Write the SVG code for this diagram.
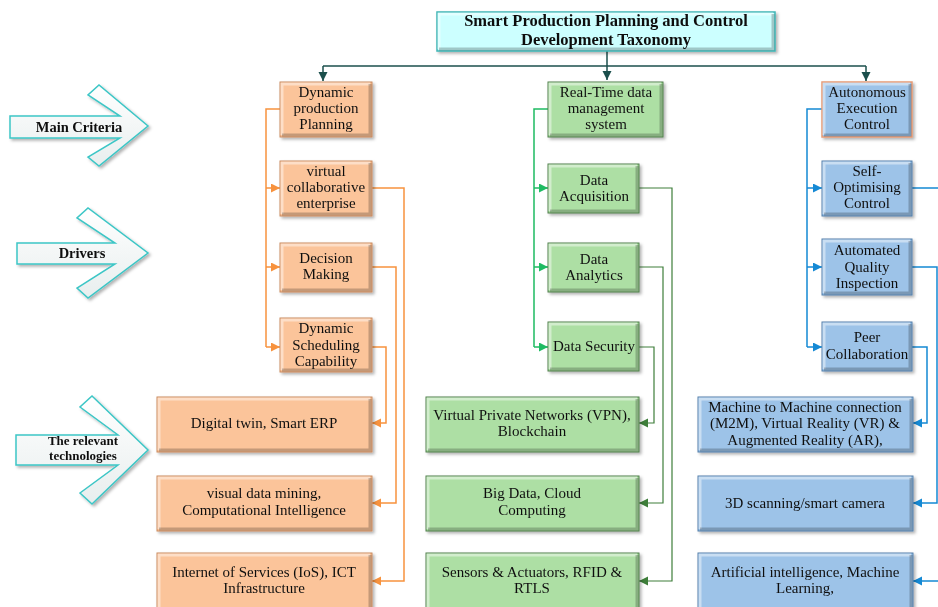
<svg xmlns="http://www.w3.org/2000/svg" width="938" height="607" viewBox="0 0 938 607">
<style>
  text{font-family:"Liberation Serif","Times New Roman",serif;fill:#111;}
  .t{font-size:15px;text-anchor:middle;}
  .tb{font-size:16.5px;font-weight:bold;text-anchor:middle;}
  .lb{font-size:14.5px;font-weight:bold;text-anchor:middle;}
  .lb2{font-size:13px;font-weight:bold;text-anchor:middle;}
  .o{fill:#FBC49A;stroke:#C98A5E;stroke-width:1;}
  .g{fill:#ADDFA4;stroke:#4F7F4A;stroke-width:1;}
  .b{fill:#9DC3E8;stroke:#527FAA;stroke-width:1;}
  .b1{fill:#9DC3E8;stroke:#E79B74;stroke-width:1.5;}
  .ti{fill:#CCFFFF;stroke:#3FB5B5;stroke-width:1.5;}
  .hl{fill:none;stroke:#fff;stroke-opacity:.45;stroke-width:3;}
  .sh{fill:none;stroke:#000;stroke-opacity:.22;stroke-width:3;}
  .la{fill:url(#wg);stroke:#3CC6C6;stroke-width:1.5;}
  .co{fill:none;stroke:#F7923E;stroke-width:1.5;}
  .cgb{fill:none;stroke:#1EBB62;stroke-width:1.5;}
  .cg{fill:none;stroke:#3E7E3A;stroke-width:1.2;}
  .cb{fill:none;stroke:#1589D4;stroke-width:1.5;}
  .ct{fill:none;stroke:#1B4F4C;stroke-width:1.5;}
</style>
<defs>
  <linearGradient id="wg" x1="0" y1="0" x2="0" y2="1">
    <stop offset="0" stop-color="#ffffff"/>
    <stop offset="1" stop-color="#e8eeee"/>
  </linearGradient>
  <filter id="ds" x="-10%" y="-10%" width="130%" height="130%">
    <feDropShadow dx="2" dy="2" stdDeviation="1.5" flood-color="#000" flood-opacity="0.3"/>
  </filter>
  <marker id="mo" markerUnits="userSpaceOnUse" markerWidth="10" markerHeight="10" refX="9" refY="4.5" orient="auto"><path d="M0,0 L9,4.5 L0,9 Z" fill="#F7923E"/></marker>
  <marker id="mgb" markerUnits="userSpaceOnUse" markerWidth="10" markerHeight="10" refX="9" refY="4.5" orient="auto"><path d="M0,0 L9,4.5 L0,9 Z" fill="#1EBB62"/></marker>
  <marker id="mg" markerUnits="userSpaceOnUse" markerWidth="10" markerHeight="10" refX="9" refY="4.5" orient="auto"><path d="M0,0 L9,4.5 L0,9 Z" fill="#3E7E3A"/></marker>
  <marker id="mb" markerUnits="userSpaceOnUse" markerWidth="10" markerHeight="10" refX="9" refY="4.5" orient="auto"><path d="M0,0 L9,4.5 L0,9 Z" fill="#1589D4"/></marker>
  <marker id="mt" markerUnits="userSpaceOnUse" markerWidth="10" markerHeight="10" refX="9" refY="4.5" orient="auto"><path d="M0,0 L9,4.5 L0,9 Z" fill="#1B4F4C"/></marker>
</defs>
<rect width="938" height="607" fill="#fff"/>

<!-- left label arrows -->
<g id="lbl-main" filter="url(#ds)">
  <polygon class="la" points="10,116 120,116 88,95 99,85 148,126 99,166 88,157 120,138 10,138"/>
  <text class="lb" x="79" y="132">Main Criteria</text>
</g>
<g id="lbl-drivers" filter="url(#ds)">
  <polygon class="la" points="17,243 115,243 77,218 88,208 148,253 88,298 77,288 115,264 17,264"/>
  <text class="lb" x="82" y="258">Drivers</text>
</g>
<g id="lbl-tech" filter="url(#ds)">
  <polygon class="la" points="16,435 118,435 80,407 92,396 148,450 92,504 80,493 118,465 16,465"/>
  <text class="lb2" x="83" y="445">The relevant</text>
  <text class="lb2" x="83" y="460">technologies</text>
</g>

<!-- connectors -->
<g id="connectors">
  <path class="ct" d="M607,51 V80" marker-end="url(#mt)"/>
  <path class="ct" d="M323,66 H866"/>
  <path class="ct" d="M323,66 V81" marker-end="url(#mt)"/>
  <path class="ct" d="M866,66 V81" marker-end="url(#mt)"/>

  <path class="co" d="M280,109 H266 V347"/>
  <path class="co" d="M266,188 H280" marker-end="url(#mo)"/>
  <path class="co" d="M266,267 H280" marker-end="url(#mo)"/>
  <path class="co" d="M266,347 H280" marker-end="url(#mo)"/>
  <path class="co" d="M372,188 H404 V581 H372" marker-end="url(#mo)"/>
  <path class="co" d="M372,267 H396 V503 H372" marker-end="url(#mo)"/>
  <path class="co" d="M372,347 H386 V423 H372" marker-end="url(#mo)"/>

  <path class="cgb" d="M548,109 H534 V347"/>
  <path class="cgb" d="M534,188 H548" marker-end="url(#mgb)"/>
  <path class="cgb" d="M534,267 H548" marker-end="url(#mgb)"/>
  <path class="cgb" d="M534,347 H548" marker-end="url(#mgb)"/>
  <path class="cg" d="M639,188 H672 V581 H639" marker-end="url(#mg)"/>
  <path class="cg" d="M639,267 H663 V503 H639" marker-end="url(#mg)"/>
  <path class="cg" d="M639,347 H654 V423 H639" marker-end="url(#mg)"/>

  <path class="cb" d="M822,109 H807 V347"/>
  <path class="cb" d="M807,188 H822" marker-end="url(#mb)"/>
  <path class="cb" d="M807,267 H822" marker-end="url(#mb)"/>
  <path class="cb" d="M807,347 H822" marker-end="url(#mb)"/>
  <path class="cb" d="M912,188 H945 V581 H913" marker-end="url(#mb)"/>
  <path class="cb" d="M912,267 H937 V503 H913" marker-end="url(#mb)"/>
  <path class="cb" d="M912,347 H927 V423 H913" marker-end="url(#mb)"/>
</g>

<!-- title -->
<g id="title" filter="url(#ds)">
  <rect class="ti" x="437" y="12" width="338" height="39"/>
  <path class="hl" d="M439,49 V14 H773"/><path class="sh" d="M439,49 H773 V14"/>
  <text class="tb" x="606" y="26">Smart Production Planning and Control</text>
  <text class="tb" x="606" y="45">Development Taxonomy</text>
</g>

<!-- orange column -->
<g id="o1" filter="url(#ds)">
  <rect class="o" x="280" y="82" width="92" height="55"/>
  <path class="hl" d="M282,135 V84 H370"/><path class="sh" d="M282,135 H370 V84"/>
  <text class="t" x="326" y="97">Dynamic</text><text class="t" x="326" y="113">production</text><text class="t" x="326" y="129">Planning</text>
</g>
<g id="o2" filter="url(#ds)">
  <rect class="o" x="280" y="161" width="92" height="55"/>
  <path class="hl" d="M282,214 V163 H370"/><path class="sh" d="M282,214 H370 V163"/>
  <text class="t" x="326" y="176">virtual</text><text class="t" x="326" y="192">collaborative</text><text class="t" x="326" y="208">enterprise</text>
</g>
<g id="o3" filter="url(#ds)">
  <rect class="o" x="280" y="243" width="92" height="49"/>
  <path class="hl" d="M282,290 V245 H370"/><path class="sh" d="M282,290 H370 V245"/>
  <text class="t" x="326" y="263">Decision</text><text class="t" x="326" y="279">Making</text>
</g>
<g id="o4" filter="url(#ds)">
  <rect class="o" x="280" y="318" width="92" height="54"/>
  <path class="hl" d="M282,370 V320 H370"/><path class="sh" d="M282,370 H370 V320"/>
  <text class="t" x="326" y="333">Dynamic</text><text class="t" x="326" y="350">Scheduling</text><text class="t" x="326" y="366">Capability</text>
</g>
<g id="oA" filter="url(#ds)">
  <rect class="o" x="157" y="397" width="215" height="55"/>
  <path class="hl" d="M159,450 V399 H370"/><path class="sh" d="M159,450 H370 V399"/>
  <text class="t" x="264" y="428">Digital twin, Smart ERP</text>
</g>
<g id="oB" filter="url(#ds)">
  <rect class="o" x="157" y="476" width="215" height="55"/>
  <path class="hl" d="M159,529 V478 H370"/><path class="sh" d="M159,529 H370 V478"/>
  <text class="t" x="264" y="498">visual data mining,</text><text class="t" x="264" y="515">Computational Intelligence</text>
</g>
<g id="oC" filter="url(#ds)">
  <rect class="o" x="157" y="553" width="215" height="58"/>
  <path class="hl" d="M159,611 V555 H370"/><path class="sh" d="M370,611 V555"/>
  <text class="t" x="264" y="577">Internet of Services (IoS), ICT</text><text class="t" x="264" y="593">Infrastructure</text>
</g>

<!-- green column -->
<g id="g1" filter="url(#ds)">
  <rect class="g" x="548" y="82" width="115" height="55"/>
  <path class="hl" d="M550,135 V84 H661"/><path class="sh" d="M550,135 H661 V84"/>
  <text class="t" x="606" y="97">Real-Time data</text><text class="t" x="606" y="113">management</text><text class="t" x="606" y="129">system</text>
</g>
<g id="g2" filter="url(#ds)">
  <rect class="g" x="548" y="164" width="91" height="49"/>
  <path class="hl" d="M550,211 V166 H637"/><path class="sh" d="M550,211 H637 V166"/>
  <text class="t" x="594" y="185">Data</text><text class="t" x="594" y="201">Acquisition</text>
</g>
<g id="g3" filter="url(#ds)">
  <rect class="g" x="548" y="243" width="91" height="49"/>
  <path class="hl" d="M550,290 V245 H637"/><path class="sh" d="M550,290 H637 V245"/>
  <text class="t" x="594" y="264">Data</text><text class="t" x="594" y="280">Analytics</text>
</g>
<g id="g4" filter="url(#ds)">
  <rect class="g" x="548" y="322" width="91" height="49"/>
  <path class="hl" d="M550,369 V324 H637"/><path class="sh" d="M550,369 H637 V324"/>
  <text class="t" x="594" y="351">Data Security</text>
</g>
<g id="gA" filter="url(#ds)">
  <rect class="g" x="426" y="397" width="213" height="55"/>
  <path class="hl" d="M428,450 V399 H637"/><path class="sh" d="M428,450 H637 V399"/>
  <text class="t" x="532" y="420">Virtual Private Networks (VPN),</text><text class="t" x="532" y="436">Blockchain</text>
</g>
<g id="gB" filter="url(#ds)">
  <rect class="g" x="426" y="476" width="213" height="55"/>
  <path class="hl" d="M428,529 V478 H637"/><path class="sh" d="M428,529 H637 V478"/>
  <text class="t" x="532" y="498">Big Data, Cloud</text><text class="t" x="532" y="515">Computing</text>
</g>
<g id="gC" filter="url(#ds)">
  <rect class="g" x="426" y="553" width="213" height="58"/>
  <path class="hl" d="M428,611 V555 H637"/><path class="sh" d="M637,611 V555"/>
  <text class="t" x="532" y="577">Sensors &amp; Actuators, RFID &amp;</text><text class="t" x="532" y="593">RTLS</text>
</g>

<!-- blue column -->
<g id="b1" filter="url(#ds)">
  <rect class="b1" x="822" y="82" width="90" height="55"/>
  <path class="hl" d="M824,135 V84 H910"/><path class="sh" d="M824,135 H910 V84"/>
  <text class="t" x="867" y="97">Autonomous</text><text class="t" x="867" y="113">Execution</text><text class="t" x="867" y="129">Control</text>
</g>
<g id="b2" filter="url(#ds)">
  <rect class="b" x="822" y="161" width="90" height="55"/>
  <path class="hl" d="M824,214 V163 H910"/><path class="sh" d="M824,214 H910 V163"/>
  <text class="t" x="867" y="176">Self-</text><text class="t" x="867" y="192">Optimising</text><text class="t" x="867" y="208">Control</text>
</g>
<g id="b3" filter="url(#ds)">
  <rect class="b" x="822" y="239" width="90" height="56"/>
  <path class="hl" d="M824,293 V241 H910"/><path class="sh" d="M824,293 H910 V241"/>
  <text class="t" x="867" y="255">Automated</text><text class="t" x="867" y="272">Quality</text><text class="t" x="867" y="288">Inspection</text>
</g>
<g id="b4" filter="url(#ds)">
  <rect class="b" x="822" y="322" width="90" height="49"/>
  <path class="hl" d="M824,369 V324 H910"/><path class="sh" d="M824,369 H910 V324"/>
  <text class="t" x="867" y="342">Peer</text><text class="t" x="867" y="359">Collaboration</text>
</g>
<g id="bA" filter="url(#ds)">
  <rect class="b" x="698" y="397" width="215" height="55"/>
  <path class="hl" d="M700,450 V399 H911"/><path class="sh" d="M700,450 H911 V399"/>
  <text class="t" x="805" y="412">Machine to Machine connection</text><text class="t" x="805" y="428">(M2M), Virtual Reality (VR) &amp;</text><text class="t" x="805" y="445">Augmented Reality (AR),</text>
</g>
<g id="bB" filter="url(#ds)">
  <rect class="b" x="698" y="476" width="215" height="55"/>
  <path class="hl" d="M700,529 V478 H911"/><path class="sh" d="M700,529 H911 V478"/>
  <text class="t" x="805" y="508">3D scanning/smart camera</text>
</g>
<g id="bC" filter="url(#ds)">
  <rect class="b" x="698" y="553" width="215" height="58"/>
  <path class="hl" d="M700,611 V555 H911"/><path class="sh" d="M911,611 V555"/>
  <text class="t" x="805" y="577">Artificial intelligence, Machine</text><text class="t" x="805" y="593">Learning,</text>
</g>
</svg>
